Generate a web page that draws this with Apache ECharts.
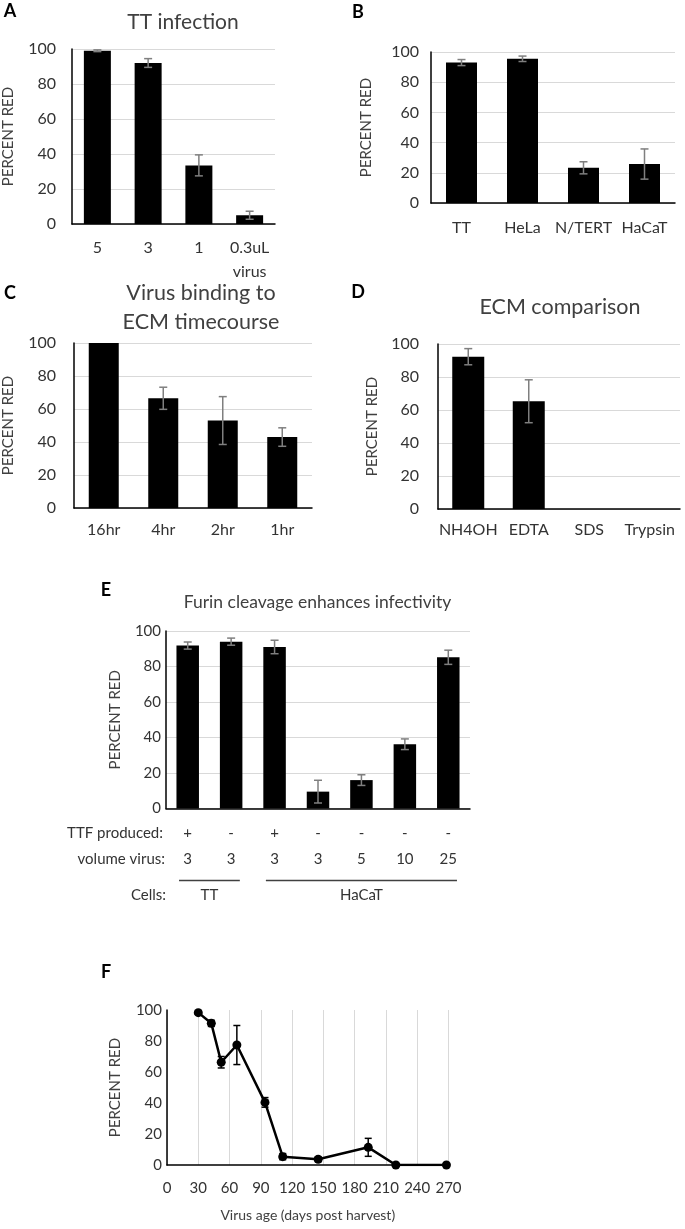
<!DOCTYPE html>
<html>
<head>
<meta charset="utf-8">
<script src="https://cdn.jsdelivr.net/npm/echarts@6/dist/echarts.min.js"></script>
<style>
html,body{margin:0;padding:0;background:#fff;}
#c{width:685px;height:1229px;}
</style>
</head>
<body>
<div id="c"></div>
<script>
// ---------- DATA ----------
var catsA = ['5', '3', '1', '0.3uL\nvirus'];
var valsA = [99, 92, 33.5, 5];
var errA  = [0.5, 2.5, 6, 2.3];

var catsB = ['TT', 'HeLa', 'N/TERT', 'HaCaT'];
var valsB = [93, 95.5, 23.3, 25.8];
var errB  = [2, 1.8, 4, 10];

var catsC = ['16hr', '4hr', '2hr', '1hr'];
var valsC = [100, 66.5, 53, 43];
var errC  = [0, 6.7, 14.5, 5.6];

var catsD = ['NH4OH', 'EDTA', 'SDS', 'Trypsin'];
var valsD = [92.3, 65.3, 0, 0];
var errD  = [4.9, 13, 0, 0];

var ttfE  = ['+', '-', '+', '-', '-', '-', '-'];
var volE  = ['3', '3', '3', '3', '5', '10', '25'];
var valsE = [91.8, 94, 91, 9.5, 16, 36.2, 85.2];
var errE  = [2, 2, 3.8, 6.4, 3, 3, 4];
var cellNames = ['TT', 'HaCaT'];
var cellFrom  = [0, 2];
var cellTo    = [1, 6];

var daysF = [30, 42.5, 52, 67, 94, 111, 145, 193, 219.5, 268];
var valsF = [98.3, 91.4, 66.3, 77.4, 40.4, 5.4, 3.7, 11.4, 0, 0];
var errF  = [1, 2, 3.7, 12.6, 3.1, 2, 1.5, 5.8, 0, 0];

// ---------- STYLE ----------
var FONT = 'Lato';
var TXT = '#333333';
var TTL = '#404040';
var GRIDC = '#d9d9d9';

var chart = echarts.init(document.getElementById('c'), null, {renderer: 'canvas', width: 685, height: 1229});

function errRender(color, cap, lw) {
  return function (params, api) {
    var e = api.value(2);
    if (!e) return null;
    var x = api.value(0), v = api.value(1);
    var t = api.coord([x, v + e]);
    var b = api.coord([x, Math.max(0, v - e)]);
    var st = {stroke: color, lineWidth: lw};
    return {type: 'group', children: [
      {type: 'line', shape: {x1: t[0], y1: t[1], x2: b[0], y2: b[1]}, style: st},
      {type: 'line', shape: {x1: t[0] - cap, y1: t[1], x2: t[0] + cap, y2: t[1]}, style: st},
      {type: 'line', shape: {x1: b[0] - cap, y1: b[1], x2: b[0] + cap, y2: b[1]}, style: st}
    ]};
  };
}

function zip3(a, b, c) { return a.map(function (v, i) { return [i, b[i], c[i]]; }); }

var grids = [
  {left: 71, top: 49, width: 204, height: 175},   // A
  {left: 431, top: 52, width: 244, height: 151},  // B
  {left: 73, top: 343, width: 239, height: 165},  // C
  {left: 438, top: 344, width: 242, height: 165}, // D
  {left: 166, top: 631, width: 304, height: 177.5}, // E
  {left: 167, top: 1010, width: 281.5, height: 155} // F
];

var yLabelMargin = [16, 12, 18, 19, 5, 5];
var yNameGap = [56, 57, 58, 58, 43, 44];
var xLabelMargin = [12, 13, 10, 9, 11.5, 11];
var tickSize = [16, 16, 16, 16, 15, 15];

var xAxes = [], yAxes = [], series = [];
var cats = [catsA, catsB, catsC, catsD, ttfE];
var vals = [valsA, valsB, valsC, valsD, valsE];
var errs = [errA, errB, errC, errD, errE];
var barW = [27, 31, 30, 32, 22.5];

for (var i = 0; i < 6; i++) {
  yAxes.push({
    type: 'value', gridIndex: i, min: 0, max: 100, interval: 20,
    name: 'PERCENT RED', nameLocation: 'middle', nameGap: yNameGap[i], nameRotate: 90,
    nameTextStyle: {fontFamily: FONT, fontSize: 15, color: TTL},
    axisLine: {show: true, lineStyle: {color: '#000', width: 1.5}},
    axisTick: {show: false},
    axisLabel: {fontFamily: FONT, fontSize: tickSize[i], color: TXT, margin: yLabelMargin[i]},
    splitLine: {show: i < 5, lineStyle: {color: GRIDC, width: 1}}
  });
}
for (var j = 0; j < 5; j++) {
  var ax = {
    type: 'category', gridIndex: j, data: cats[j],
    axisLine: {lineStyle: {color: '#000', width: 1.5}},
    axisTick: {show: false},
    axisLabel: {fontFamily: FONT, fontSize: tickSize[j], color: TXT, margin: xLabelMargin[j], lineHeight: 24, interval: 0}
  };
  if (j === 4) {
    ax.axisLabel.formatter = function (v, idx) { return '{a|' + ttfE[idx] + '}\n{a|' + volE[idx] + '}'; };
    ax.axisLabel.rich = {a: {fontFamily: FONT, fontSize: 15, color: TXT, lineHeight: 26}};
  }
  xAxes.push(ax);
  series.push({
    type: 'bar', xAxisIndex: j, yAxisIndex: j, data: vals[j], barWidth: barW[j],
    itemStyle: {color: '#000'}, silent: true, animation: false
  });
  series.push({
    type: 'custom', xAxisIndex: j, yAxisIndex: j, data: zip3(cats[j], vals[j], errs[j]),
    encode: {x: 0, y: 1}, renderItem: errRender('#7f7f7f', 4, 1.5), z: 5, animation: false, silent: true
  });
}
xAxes.push({
  type: 'value', gridIndex: 5, min: 0, max: 270, interval: 30,
  name: 'Virus age (days post harvest)', nameLocation: 'middle', nameGap: 43,
  nameTextStyle: {fontFamily: FONT, fontSize: 14, color: TTL},
  axisLine: {lineStyle: {color: '#000', width: 1.5}},
  axisTick: {show: false},
  axisLabel: {fontFamily: FONT, fontSize: 15, color: TXT, margin: 11, lineHeight: 24},
  splitLine: {show: true, lineStyle: {color: GRIDC, width: 1}}
});

// cells group lines (panel E)
series.push({
  type: 'custom', xAxisIndex: 4, yAxisIndex: 4,
  data: cellFrom.map(function (f, k) { return [f, cellTo[k], 0]; }),
  encode: {x: [0, 1], y: 2}, animation: false, silent: true,
  renderItem: function (params, api) {
    var c0 = api.coord([api.value(0), 0]);
    var c1 = api.coord([api.value(1), 0]);
    var bw = api.size([1, 0])[0];
    var x1 = c0[0] - bw * 0.2, x2 = c1[0] + bw * 0.2, y = c0[1] + 72;
    return {type: 'group', children: [
      {type: 'line', shape: {x1: x1, y1: y, x2: x2, y2: y}, style: {stroke: '#404040', lineWidth: 1.5}},
      {type: 'text', x: (x1 + x2) / 2, y: y + 15,
       style: {text: cellNames[params.dataIndex], fill: TXT, font: '15px ' + FONT, align: 'center', verticalAlign: 'middle'}}
    ]};
  }
});

// panel F line + error bars
series.push({
  type: 'custom', xAxisIndex: 5, yAxisIndex: 5,
  data: daysF.map(function (d, k) { return [d, valsF[k], errF[k]]; }),
  encode: {x: 0, y: 1}, renderItem: errRender('#000', 3.5, 1.5), z: 3, animation: false, silent: true
});
series.push({
  type: 'line', xAxisIndex: 5, yAxisIndex: 5,
  data: daysF.map(function (d, k) { return [d, valsF[k]]; }),
  lineStyle: {color: '#000', width: 2.5}, itemStyle: {color: '#000'},
  symbol: 'circle', symbolSize: 9, showSymbol: true, z: 4, animation: false, silent: true
});

function txt(x, y, s, size, bold) {
  return {type: 'text', x: x, y: y, style: {text: s, fill: bold ? '#000' : TTL,
    font: (bold ? 'bold ' : '') + size + 'px ' + FONT, align: 'center', verticalAlign: 'middle'}};
}
function rtxt(x, y, s) {
  return {type: 'text', x: x, y: y, style: {text: s, fill: TXT, font: '15px ' + FONT, align: 'right', verticalAlign: 'middle'}};
}

var graphics = [
  txt(10, 11, 'A', 18, true),
  txt(358, 12, 'B', 18, true),
  txt(10, 293, 'C', 18, true),
  txt(358, 292, 'D', 18, true),
  txt(106, 590, 'E', 18, true),
  txt(106, 972, 'F', 18, true),
  txt(183, 22, 'TT infection', 21),
  txt(201, 293, 'Virus binding to', 21.5),
  txt(201, 322, 'ECM timecourse', 21.5),
  txt(560, 307, 'ECM comparison', 21.5),
  txt(317.5, 602, 'Furin cleavage enhances infectivity', 17.5),
  rtxt(163, 833, 'TTF produced:'),
  rtxt(165, 859, 'volume virus:'),
  rtxt(166, 895, 'Cells:')
];

chart.setOption({
  animation: false,
  backgroundColor: '#fff',
  grid: grids,
  xAxis: xAxes,
  yAxis: yAxes,
  series: series,
  graphic: graphics
});
</script>
</body>
</html>
